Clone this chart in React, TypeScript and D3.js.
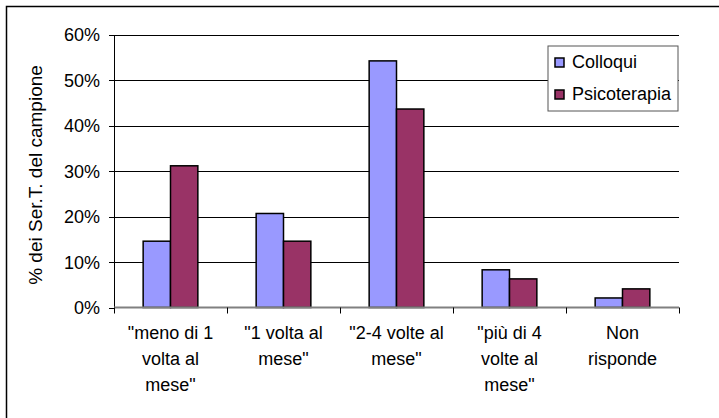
import React, { useEffect, useRef } from 'react';
import * as d3 from 'd3';

const categories: string[][] = [
  ['"meno di 1', 'volta al', 'mese"'],
  ['"1 volta al', 'mese"'],
  ['"2-4 volte al', 'mese"'],
  ['"più di 4', 'volte al', 'mese"'],
  ['Non', 'risponde'],
];
const seriesNames = ['Colloqui', 'Psicoterapia'];
const colloqui = [14.6, 20.7, 54.3, 8.3, 2.1];
const psicoterapia = [31.2, 14.6, 43.7, 6.3, 4.1];
const yTicks = [0, 10, 20, 30, 40, 50, 60];
const colors = ['#9999FF', '#993366'];

const W = 719;
const H = 418;
const font = 'Arial, "Liberation Sans", sans-serif';

export default function App() {
  const svgRef = useRef<SVGSVGElement>(null);

  useEffect(() => {
    if (!svgRef.current) return;
    const svg = d3.select(svgRef.current);
    svg.selectAll('*').remove();

    const plot = { left: 114, right: 679, top: 35, bottom: 307.5 };

    // outer frame (runs past the picture on the right and bottom)
    svg.append('rect')
      .attr('x', 6.5).attr('y', 6.5)
      .attr('width', 900).attr('height', 600)
      .attr('fill', 'white')
      .attr('stroke', '#000').attr('stroke-width', 1.5);

    const idx = categories.map((_, i) => i);
    const x = d3.scaleBand<number>()
      .domain(idx)
      .range([plot.left, plot.right]);
    const inner = d3.scaleBand<number>()
      .domain([0, 1])
      .range([x.bandwidth() * 0.258, x.bandwidth() * 0.742]);
    const y = d3.scaleLinear().domain([0, 60]).range([plot.bottom, plot.top]);

    // gridlines
    svg.append('g')
      .selectAll('line')
      .data(yTicks.filter(t => t > 0))
      .join('line')
      .attr('x1', plot.left).attr('x2', plot.right)
      .attr('y1', d => Math.round(y(d)) + 0.5).attr('y2', d => Math.round(y(d)) + 0.5)
      .attr('stroke', '#000').attr('stroke-width', 1);

    // y axis line + ticks
    svg.append('line')
      .attr('x1', plot.left + 0.5).attr('x2', plot.left + 0.5)
      .attr('y1', plot.top).attr('y2', plot.bottom)
      .attr('stroke', '#000');
    svg.append('g')
      .selectAll('line')
      .data(yTicks)
      .join('line')
      .attr('x1', plot.left - 5).attr('x2', plot.left)
      .attr('y1', d => Math.round(y(d)) + 0.5).attr('y2', d => Math.round(y(d)) + 0.5)
      .attr('stroke', '#000');

    svg.append('g')
      .selectAll('text')
      .data(yTicks)
      .join('text')
      .attr('x', 100)
      .attr('y', d => y(d))
      .attr('dy', '0.36em')
      .attr('text-anchor', 'end')
      .attr('font-family', font)
      .attr('font-size', 18)
      .text(d => `${d}%`);

    // y title
    svg.append('text')
      .attr('transform', 'translate(42,175) rotate(-90)')
      .attr('text-anchor', 'middle')
      .attr('font-family', font)
      .attr('font-size', 19)
      .text('% dei Ser.T. del campione');

    // bars
    const rows = idx.map(i => [colloqui[i], psicoterapia[i]]);
    const groups = svg.append('g')
      .selectAll('g')
      .data(rows)
      .join('g')
      .attr('transform', (_, i) => `translate(${x(i)},0)`);
    groups.selectAll('rect')
      .data(d => d)
      .join('rect')
      .attr('x', (_, j) => inner(j)!)
      .attr('width', inner.bandwidth())
      .attr('y', d => y(d))
      .attr('height', d => y(0) - y(d))
      .attr('fill', (_, j) => colors[j])
      .attr('stroke', '#000')
      .attr('stroke-width', 1.5);

    // x baseline + ticks
    svg.append('line')
      .attr('x1', plot.left).attr('x2', plot.right)
      .attr('y1', plot.bottom).attr('y2', plot.bottom)
      .attr('stroke', '#808080').attr('stroke-width', 2);
    svg.append('g')
      .selectAll('line')
      .data([...idx, categories.length])
      .join('line')
      .attr('x1', d => (d < categories.length ? x(d)! : plot.right) + 0.5)
      .attr('x2', d => (d < categories.length ? x(d)! : plot.right) + 0.5)
      .attr('y1', plot.bottom).attr('y2', plot.bottom + 6)
      .attr('stroke', '#000');

    // category labels
    const labels = svg.append('g')
      .selectAll('text')
      .data(categories)
      .join('text')
      .attr('x', (_, i) => x(i)! + x.bandwidth() / 2)
      .attr('y', 339)
      .attr('text-anchor', 'middle')
      .attr('font-family', font)
      .attr('font-size', 18);
    labels.selectAll('tspan')
      .data(d => d)
      .join('tspan')
      .attr('x', function () {
        return (this.parentNode as SVGTextElement).getAttribute('x');
      })
      .attr('dy', (_, k) => (k === 0 ? 0 : 26))
      .text(d => d);

    // legend
    const lg = svg.append('g').attr('transform', 'translate(548,46)');
    lg.append('rect')
      .attr('x', 0).attr('y', 0).attr('width', 130).attr('height', 65)
      .attr('fill', 'white').attr('stroke', '#555').attr('stroke-width', 1);
    const items = lg.selectAll('g.item')
      .data(seriesNames)
      .join('g')
      .attr('class', 'item')
      .attr('transform', (_, i) => `translate(0,${16 + i * 32})`);
    items.append('rect')
      .attr('x', 7).attr('y', -4).attr('width', 9).attr('height', 9)
      .attr('fill', (_, i) => colors[i])
      .attr('stroke', '#000').attr('stroke-width', 1.5);
    items.append('text')
      .attr('x', 24).attr('y', 0)
      .attr('dy', '0.36em')
      .attr('font-family', font)
      .attr('font-size', 18)
      .text(d => d);
  }, []);

  return (
    <div style={{ position: 'absolute', left: 0, top: 0, width: W, height: H, background: 'white' }}>
      <svg ref={svgRef} width={W} height={H} viewBox={`0 0 ${W} ${H}`} style={{ display: 'block' }} />
    </div>
  );
}
